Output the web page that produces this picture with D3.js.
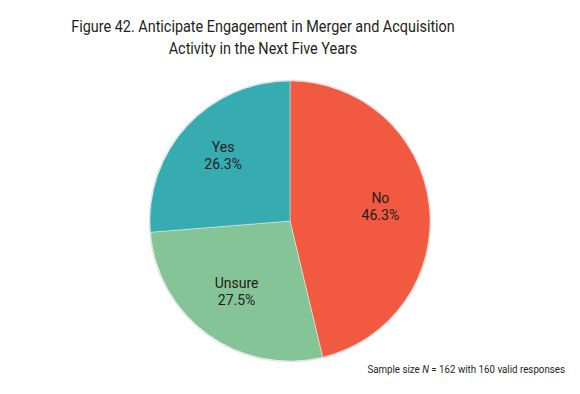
<!DOCTYPE html>
<html>
<head>
<meta charset="utf-8">
<script src="https://cdn.jsdelivr.net/npm/d3@7"></script>
<style>
  body { margin:0; background:#fff; }
  svg text { font-family: Roboto, "Open Sans", sans-serif; fill:#231f20; }
</style>
</head>
<body>
<svg id="chart" width="580" height="394"></svg>
<script>
// data
const categories = ["No", "Unsure", "Yes"];
const values = [46.3, 27.5, 26.3];
const colours = ["#f15a40", "#84c496", "#36abb0"];
const titleLines = ["Figure 42. Anticipate Engagement in Merger and Acquisition", "Activity in the Next Five Years"];

const svg = d3.select("#chart");
const cx = 290, cy = 221, radius = 140;

const data = categories.map((c,i)=>({name:c, value:values[i]}));

const colourScale = d3.scaleOrdinal().domain(categories).range(colours);

const pie = d3.pie().sort(null).value(d=>d.value);
const arc = d3.arc().innerRadius(0).outerRadius(radius);
const labelArc = d3.arc().innerRadius(radius*0.65).outerRadius(radius*0.65);

const g = svg.append("g").attr("transform","translate("+cx+","+cy+")");

// faint shadow edge
g.append("circle")
    .attr("r",radius+0.7)
    .attr("fill","none")
    .attr("stroke","#dcdcdc")
    .attr("stroke-width",1);

g.selectAll("path")
    .data(pie(data))
    .enter()
    .append("path")
    .attr("d", arc)
    .attr("fill", d=>colourScale(d.data.name))
    .attr("stroke","#fff")
    .attr("stroke-width",0.4);

const labels = g.selectAll(".label")
    .data(pie(data))
    .enter()
    .append("g")
    .attr("class","label")
    .attr("transform", d=>"translate("+labelArc.centroid(d)+")");
labels.append("text")
    .attr("text-anchor","middle")
    .attr("y",-7)
    .style("font-size","14px")
    .text(d=>d.data.name);
labels.append("text")
    .attr("text-anchor","middle")
    .attr("y",10)
    .style("font-size","14px")
    .text(d=>d3.format(".1f")(d.data.value)+"%");

// title, squeezed horizontally to the narrow face of the original
const titleG = svg.append("g");
const titles = titleG.selectAll(".title")
    .data(titleLines)
    .enter()
    .append("text")
    .attr("class","title")
    .attr("text-anchor","middle")
    .attr("x",0)
    .attr("y",(d,i)=>32+i*22)
    .style("font-size","17px")
    .text(d=>d);
const w1 = titles.node().getComputedTextLength();
titleG.attr("transform","translate(263,0) scale("+(384/w1)+",1)");

// note
const noteG = svg.append("g");
const note = noteG.append("text")
    .attr("x",0).attr("y",373)
    .attr("text-anchor","end")
    .style("font-size","11px");
note.append("tspan").text("Sample size ");
note.append("tspan").style("font-style","italic").text("N");
note.append("tspan").text(" = 162 with 160 valid responses");
const nw = note.node().getComputedTextLength();
noteG.attr("transform","translate(565,0) scale("+Math.min(1,198/nw)+",1)");
</script>
</body>
</html>
